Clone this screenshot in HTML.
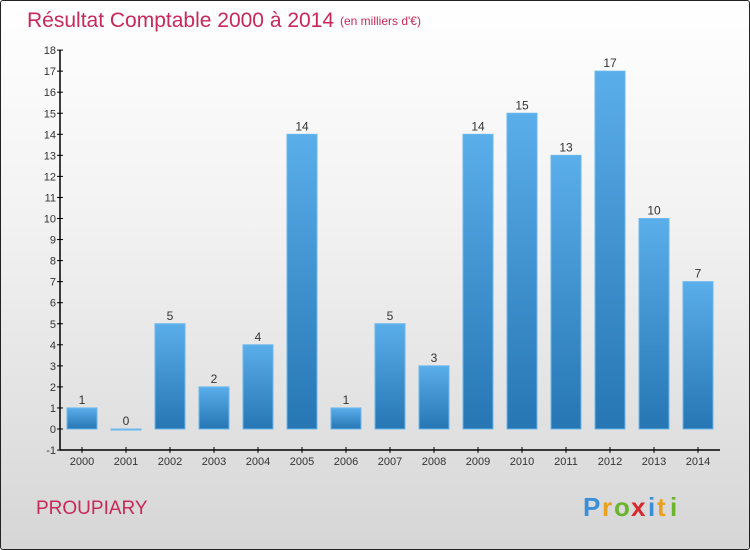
<!DOCTYPE html>
<html><head><meta charset="utf-8">
<style>
html,body{margin:0;padding:0}
body{width:750px;height:550px;overflow:hidden;font-family:"Liberation Sans",sans-serif}
#wrap{position:absolute;left:0;top:0;width:748px;height:548px;border:1px solid #222;border-radius:3px;background:linear-gradient(#ffffff 0%,#f2f2f2 40%,#d6d6d6 100%)}
</style></head>
<body>
<div id="wrap">
<svg id="chart" width="750" height="550" style="position:absolute;left:-1px;top:-1px">
<defs>
<linearGradient id="bg" x1="0" y1="0" x2="0" y2="1">
<stop offset="0" stop-color="#5aaeea"/><stop offset="1" stop-color="#2676b4"/>
</linearGradient>
</defs>
<text x="27" y="27" font-size="21" fill="#c8285a">Résultat Comptable 2000 à 2014</text>
<text x="340" y="25" font-size="12" fill="#c8285a">(en milliers d'€)</text>
<text x="36" y="514" font-size="19" fill="#c8285a">PROUPIARY</text>
<g font-size="26" font-weight="bold">
<text x="583" y="516" fill="#3a8fd6">P</text><text x="602" y="516" fill="#e8a020">r</text><text x="614" y="516" fill="#6bb52e">o</text><text x="631" y="516" fill="#d8282e">x</text><text x="648" y="516" fill="#3a8fd6">i</text><text x="657" y="516" fill="#e8a020">t</text><text x="670" y="516" fill="#6bb52e">i</text>
</g>
<g id="plot"></g>
</svg>
</div>
<script>
const categories=["2000","2001","2002","2003","2004","2005","2006","2007","2008","2009","2010","2011","2012","2013","2014"];
const values=[1,0,5,2,4,14,1,5,3,14,15,13,17,10,7];
const yTicks=[-1,0,1,2,3,4,5,6,7,8,9,10,11,12,13,14,15,16,17,18];
const NS="http://www.w3.org/2000/svg";
const g=document.getElementById('plot');
const y=v=>429-v*21.05;
const x=i=>82+i*44;
function mk(t,a){const e=document.createElementNS(NS,t);for(const k in a)e.setAttribute(k,a[k]);g.appendChild(e);return e;}
let ax=mk('line',{x1:60,y1:y(18),x2:60,y2:y(-1),stroke:'#000','stroke-width':1.5});


let xa=mk('line',{x1:60,y1:y(-1),x2:720,y2:y(-1),stroke:'#000','stroke-width':1.5});


yTicks.forEach(v=>{
 let t=mk('line',{x1:57,y1:y(v),x2:63,y2:y(v),stroke:'#000'});
 
 
 let l=mk('text',{x:56,y:y(v)+4,'font-size':11,'text-anchor':'end',fill:'#333'});
 l.textContent=v;
 
 
});
categories.forEach((c,i)=>{
 let t=mk('line',{x1:x(i),y1:y(-1)-3,x2:x(i),y2:y(-1)+3,stroke:'#000'});
 
 
 let l=mk('text',{x:x(i),y:465,'font-size':11,'text-anchor':'middle',fill:'#333'});
 l.textContent=c;
 
 
 const v=values[i];
 const top=y(Math.max(v,0)),h=Math.max(Math.abs(y(v)-y(0)),1);
 let b=mk('rect',{x:x(i)-15,y:top,width:30,height:h,fill:'url(#bg)',stroke:'#6ab8ee','stroke-width':1});
 
 
 let vl=mk('text',{x:x(i),y:top-4,'font-size':12,'text-anchor':'middle',fill:'#333'});
 vl.textContent=v;
 
 
});
</script>
</body></html>
